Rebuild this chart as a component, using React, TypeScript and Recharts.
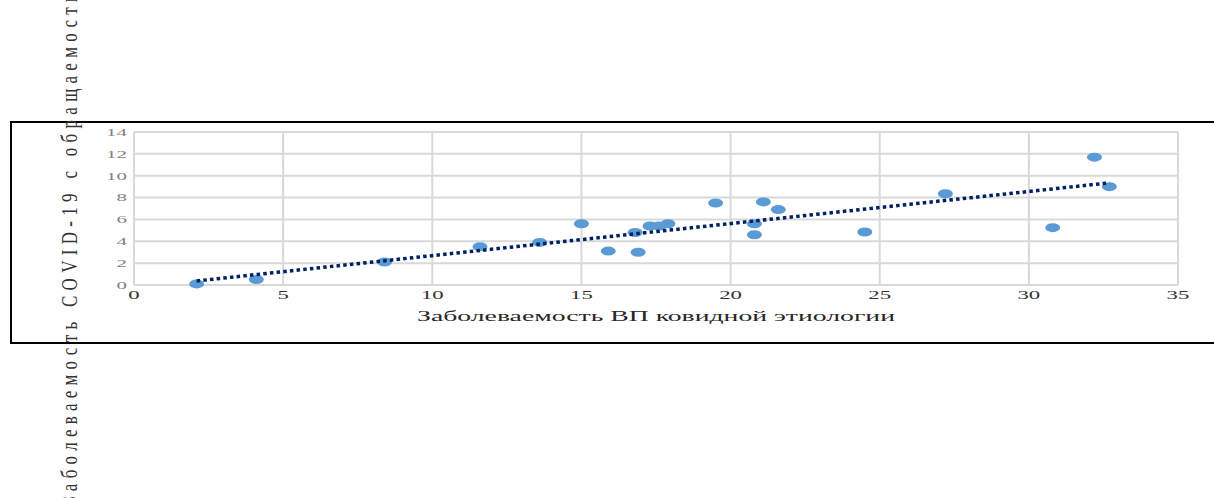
import { CartesianGrid, Scatter, ScatterChart, XAxis, YAxis } from 'recharts'

// incidence of covid pneumonia (x) vs covid-19 incidence with visits (y), per region
const pneumoniaRate = [2.1, 4.1, 8.4, 11.6, 13.6, 15.0, 15.9, 16.8, 16.9, 17.3, 17.6, 17.9, 19.5, 20.8, 20.8, 21.1, 21.6, 24.5, 27.2, 30.8, 32.2, 32.7]
const covidRate = [0.1, 0.5, 2.1, 3.5, 3.9, 5.6, 3.1, 4.8, 3.0, 5.4, 5.4, 5.6, 7.5, 5.6, 4.6, 7.6, 6.9, 4.85, 8.35, 5.25, 11.7, 9.0]

// linear trend, endpoints
const trendX = [2.1, 32.7]
const trendY = [0.37, 9.35]

const xTicks = [0, 5, 10, 15, 20, 25, 30, 35]
const yTicks = [0, 2, 4, 6, 8, 10, 12, 14]

const xTitle = 'Заболеваемость ВП ковидной этиологии'
const yTitle = 'Заболеваемость COVID-19 с обращаемостью'

const points = pneumoniaRate.map((x, i) => ({ x, y: covidRate[i] }))
const trend = trendX.map((x, i) => ({ x, y: trendY[i] }))

const SERIF = '"Liberation Serif", "Times New Roman", serif'

function YTick({ x, y, payload }: any) {
  return (
    <g transform={`translate(${x},${y})`}>
      <text transform="scale(1.9,1)" textAnchor="end" dy="0.35em" fontFamily={SERIF} fontSize={11} fill="#7f7f7f">
        {payload.value}
      </text>
    </g>
  )
}

function XTick({ x, y, payload }: any) {
  return (
    <g transform={`translate(${x},${y})`}>
      <text transform="scale(1.9,1)" textAnchor="middle" dy="0.71em" fontFamily={SERIF} fontSize={12} fill="#333">
        {payload.value}
      </text>
    </g>
  )
}

function XTitle({ viewBox }: any) {
  return (
    <text
      x={viewBox.x + viewBox.width / 2}
      y={viewBox.y + 36}
      textAnchor="middle"
      textLength={478}
      lengthAdjust="spacingAndGlyphs"
      fontFamily={SERIF}
      fontSize={14}
      fill="#262626"
    >
      {xTitle}
    </text>
  )
}

// long rotated title, runs past the top of the page like in the source
function YTitle() {
  return (
    <text
      transform="translate(77,505) rotate(-90) scale(1,1.3)"
      textAnchor="start"
      fontFamily={SERIF}
      fontSize={17}
      letterSpacing={5.3}
      fill="#333"
    >
      {yTitle}
    </text>
  )
}

function Dot({ cx, cy }: any) {
  return <ellipse cx={cx} cy={cy} rx={7.5} ry={4.5} fill="#5b9bd5" />
}

export default function App() {
  return (
    <div style={{ position: 'absolute', left: 0, top: 0, width: 1214, height: 498, overflow: 'hidden', background: '#fff' }}>
      <div
        style={{
          position: 'absolute',
          left: 10,
          top: 121,
          width: 1220,
          height: 219,
          border: '2px solid #000',
        }}
      />
      <div style={{ position: 'absolute', left: 0, top: 0 }}>
        <ScatterChart width={1214} height={498} margin={{ top: 132, right: 36, left: 94, bottom: 183 }}>
          <CartesianGrid stroke="#d9d9d9" strokeWidth={2} />
          <XAxis
            type="number"
            dataKey="x"
            domain={[0, 35]}
            ticks={xTicks}
            interval={0}
            axisLine={false}
            tickLine={false}
            tickSize={5}
            tickMargin={0}
            height={30}
            tick={<XTick />}
            label={{ content: <XTitle /> }}
          />
          <YAxis
            type="number"
            dataKey="y"
            domain={[0, 14]}
            ticks={yTicks}
            interval={0}
            axisLine={false}
            tickLine={false}
            tickSize={7}
            tickMargin={0}
            width={40}
            tick={<YTick />}
            label={{ content: <YTitle /> }}
          />
          <Scatter data={points} shape={<Dot />} isAnimationActive={false} />
          <Scatter
            data={trend}
            shape={() => <g />}
            line={{ stroke: '#002060', strokeWidth: 3.5, strokeDasharray: '3.5 3.2' }}
            isAnimationActive={false}
          />
        </ScatterChart>
      </div>
    </div>
  )
}
